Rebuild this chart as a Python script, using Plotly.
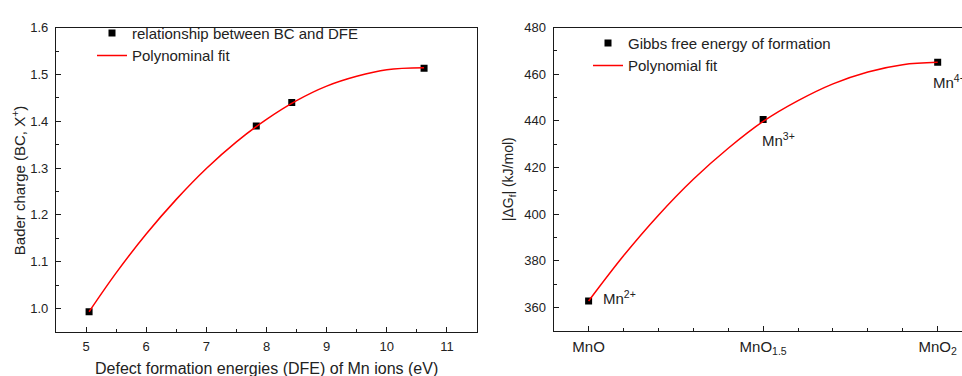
import plotly.graph_objects as go

W, H = 962, 376

# ---------------- data ----------------
# Left panel: Bader charge vs defect formation energy
dfe = [5.05, 7.83, 8.42, 10.62]
bc = [0.993, 1.390, 1.440, 1.513]
fit_dfe = [5.05, 5.5, 6.0, 6.5, 7.0, 7.5, 8.0, 8.5, 9.0, 9.5, 10.0, 10.62]
fit_bc = [0.993, 1.076, 1.159, 1.233, 1.299, 1.356, 1.404, 1.444, 1.475, 1.496, 1.510, 1.514]

# Right panel: Gibbs free energy of formation
oxide_pos = [1.0, 1.5, 2.0]
oxide_labels = ["MnO", "MnO<sub>1.5</sub>", "MnO<sub>2</sub>"]
dgf = [362.8, 440.6, 465.1]
ion_labels = ["Mn<sup>2+</sup>", "Mn<sup>3+</sup>", "Mn<sup>4+</sup>"]
fit_ox = [1.0, 1.1, 1.2, 1.3, 1.4, 1.5, 1.6, 1.7, 1.8, 1.9, 2.0]
fit_dgf = [362.8, 382.2, 399.6, 415.0, 428.3, 439.8, 448.7, 455.9, 461.0, 464.1, 465.1]

FONT = "Liberation Sans, Arial, sans-serif"
AX = "#1a1a1a"


def px(x):
    return x / W


def py(y):
    return 1 - y / H


fig = go.Figure()

fig.add_trace(go.Scatter(
    x=dfe, y=bc, mode="markers", name="relationship between BC and DFE",
    marker=dict(symbol="square", size=7, color="black"),
    xaxis="x", yaxis="y", legend="legend"))
fig.add_trace(go.Scatter(
    x=fit_dfe, y=fit_bc, mode="lines", name="Polynominal fit",
    line=dict(color="red", width=1.5, shape="spline"),
    xaxis="x", yaxis="y", legend="legend"))

fig.add_trace(go.Scatter(
    x=oxide_pos, y=dgf, mode="markers", name="Gibbs free energy of formation",
    marker=dict(symbol="square", size=7, color="black"),
    xaxis="x2", yaxis="y2", legend="legend2"))
fig.add_trace(go.Scatter(
    x=fit_ox, y=fit_dgf, mode="lines", name="Polynomial fit",
    line=dict(color="red", width=1.5, shape="spline"),
    xaxis="x2", yaxis="y2", legend="legend2"))

axis_common = dict(
    showline=True, linecolor=AX, linewidth=1.2, ticks="inside", ticklen=5,
    tickwidth=1, tickcolor=AX, showgrid=False, zeroline=False,
    tickfont=dict(family=FONT, size=13, color="#222"),
)

fig.update_layout(
    width=W, height=H,
    margin=dict(l=0, r=0, t=0, b=0),
    paper_bgcolor="white", plot_bgcolor="white",
    font=dict(family=FONT, color="#222"),
    xaxis=dict(
        domain=[px(56), px(477)], range=[4.5, 11.5], anchor="y",
        tickvals=[5, 6, 7, 8, 9, 10, 11], mirror=True,
        minor=dict(dtick=0.5, tick0=5, ticks="inside", ticklen=3, tickcolor=AX),
        ticklabelstandoff=2,
        **axis_common),
    yaxis=dict(
        domain=[py(331), py(21)], range=[0.95, 1.6], anchor="x",
        tickvals=[1.0, 1.1, 1.2, 1.3, 1.4, 1.5, 1.6], tickformat=".1f", mirror=True,
        minor=dict(dtick=0.05, tick0=1.0, ticks="inside", ticklen=3, tickcolor=AX),
        ticklabelstandoff=4,
        **axis_common),
    xaxis2=dict(
        domain=[px(553.7), 1.0], range=[0.9, 1 + (962 - 588.7) / 349.0], anchor="y2",
        tickvals=oxide_pos, ticktext=oxide_labels, mirror=True,
        minor=dict(dtick=0.1, tick0=1.0, ticks="inside", ticklen=3, tickcolor=AX),
        ticklabelstandoff=2,
        **{**axis_common, "tickfont": dict(family=FONT, size=15, color="#222")}),
    yaxis2=dict(
        domain=[py(330), py(21)], range=[350, 480], anchor="x2",
        tickvals=[360, 380, 400, 420, 440, 460, 480], mirror=False,
        minor=dict(dtick=10, tick0=360, ticks="inside", ticklen=3, tickcolor=AX),
        ticklabelstandoff=4,
        **axis_common),
    legend=dict(
        x=px(92), y=py(10), xanchor="left", yanchor="top",
        bgcolor="rgba(0,0,0,0)", borderwidth=0, tracegroupgap=0,
        font=dict(family=FONT, size=15, color="#222"), itemwidth=30),
    legend2=dict(
        x=px(588), y=py(20), xanchor="left", yanchor="top",
        bgcolor="rgba(0,0,0,0)", borderwidth=0, tracegroupgap=0,
        font=dict(family=FONT, size=15, color="#222"), itemwidth=30),
    showlegend=True,
)

annots = [
    dict(text="Defect formation energies (DFE) of Mn ions (eV)", x=px(266.5), y=py(368),
         xref="paper", yref="paper", showarrow=False, xanchor="center", yanchor="middle",
         font=dict(family=FONT, size=16, color="#222")),
    dict(text="Bader charge (BC, X<sup>+</sup>)", x=px(18), y=py(176.5),
         xref="paper", yref="paper", showarrow=False, textangle=-90,
         xanchor="center", yanchor="middle",
         font=dict(family=FONT, size=15, color="#222")),
    dict(text="|ΔG<sub>f</sub>| (kJ/mol)", x=px(509), y=py(175.5),
         xref="paper", yref="paper", showarrow=False, textangle=-90,
         xanchor="center", yanchor="middle",
         font=dict(family=FONT, size=14, color="#222")),
]
shifts = [(12, 3), (-3, -20), (-7, -19)]
for xv, yv, lab, (dx, dy) in zip(oxide_pos, dgf, ion_labels, shifts):
    annots.append(dict(text=lab, x=xv, y=yv, xref="x2", yref="y2", showarrow=False,
                       xanchor="left", yanchor="middle", xshift=dx, yshift=dy,
                       font=dict(family=FONT, size=15, color="#222")))
fig.update_layout(annotations=annots)

fig.write_html("out.html")
